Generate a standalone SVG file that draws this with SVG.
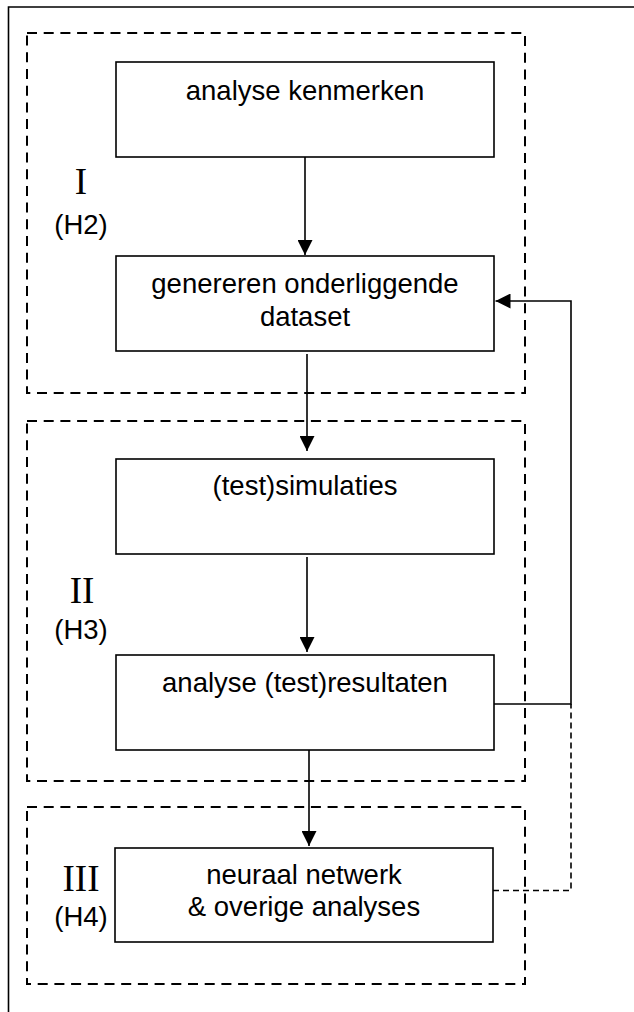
<svg xmlns="http://www.w3.org/2000/svg" width="634" height="1012" viewBox="0 0 634 1012">
<style>
.frame{fill:none;stroke:#000;stroke-width:1.6}
.grp{fill:none;stroke:#000;stroke-width:2;stroke-dasharray:10 6.7}
.box{fill:#fff;stroke:#000;stroke-width:1.6}
.t{font-family:"Liberation Sans",Arial,sans-serif;font-size:27.5px;fill:#000;text-anchor:middle}
.r{font-family:"Liberation Serif","Times New Roman",serif;font-size:37px;fill:#000;text-anchor:middle}
.c{fill:none;stroke:#000;stroke-width:1.6}
.cd{fill:none;stroke:#000;stroke-width:1.6;stroke-dasharray:6 4}
</style>
<defs>
<marker id="ah" markerWidth="15" markerHeight="15" refX="15" refY="7.5" orient="auto" markerUnits="userSpaceOnUse">
<path d="M0,0 L15,7.5 L0,15 Z" fill="#000"/>
</marker>
</defs>
<rect width="634" height="1012" fill="#fff"/>
<path class="frame" d="M8.5,1012 V7 H634"/>
<g id="group-I">
<rect class="grp" x="27" y="33" width="498" height="360"/>
<text class="r" x="81" y="194">I</text>
<text class="t" x="81" y="234">(H2)</text>
</g>
<g id="group-II">
<rect class="grp" x="27" y="421" width="498" height="360"/>
<text class="r" x="82" y="603">II</text>
<text class="t" x="81" y="639">(H3)</text>
</g>
<g id="group-III">
<rect class="grp" x="27" y="807" width="498" height="177"/>
<text class="r" x="81" y="891">III</text>
<text class="t" x="81" y="926">(H4)</text>
</g>
<g id="connectors">
<line class="c" x1="305" y1="157" x2="305" y2="255" marker-end="url(#ah)"/>
<line class="c" x1="307" y1="354" x2="307" y2="451" marker-end="url(#ah)"/>
<line class="c" x1="307" y1="557" x2="307" y2="652" marker-end="url(#ah)"/>
<line class="c" x1="309" y1="750" x2="309" y2="846" marker-end="url(#ah)"/>
<path class="c" d="M492,704 H571 V301 H495.5" marker-end="url(#ah)"/>
<path class="cd" d="M493,890.5 H571 V704"/>
</g>
<g id="node-analyse-kenmerken">
<rect class="box" x="116" y="62" width="378" height="95"/>
<text class="t" x="305" y="100">analyse kenmerken</text>
</g>
<g id="node-genereren">
<rect class="box" x="116" y="256" width="378" height="95"/>
<text class="t" x="305" y="293">genereren onderliggende</text>
<text class="t" x="305" y="326">dataset</text>
</g>
<g id="node-simulaties">
<rect class="box" x="116" y="459" width="378" height="95"/>
<text class="t" x="305" y="495">(test)simulaties</text>
</g>
<g id="node-resultaten">
<rect class="box" x="116" y="655" width="378" height="95"/>
<text class="t" x="305" y="692">analyse (test)resultaten</text>
</g>
<g id="node-neuraal">
<rect class="box" x="115" y="848" width="378" height="94"/>
<text class="t" x="304" y="884">neuraal netwerk</text>
<text class="t" x="304" y="916">&amp; overige analyses</text>
</g>
</svg>
